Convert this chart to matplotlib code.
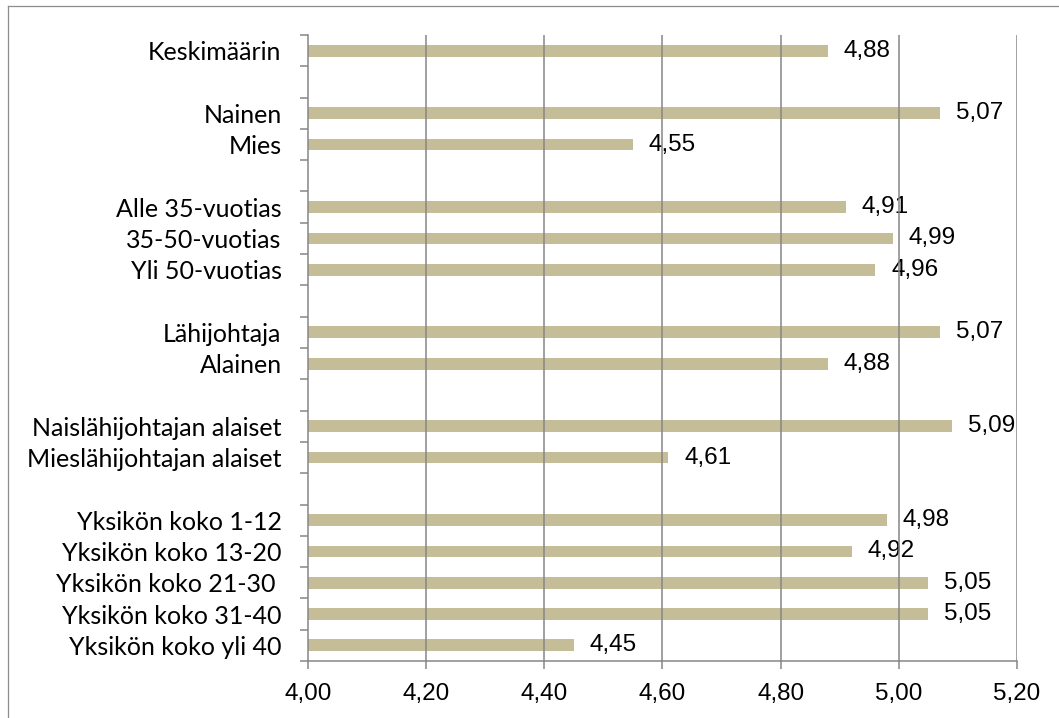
import matplotlib
matplotlib.use("Agg")
import matplotlib.pyplot as plt
from matplotlib.lines import Line2D
from matplotlib.ticker import FixedLocator

# Category rows, top to bottom; None marks an empty spacer row between groups
categories = [
    "Keskimäärin", None,
    "Nainen", "Mies", None,
    "Alle 35-vuotias", "35-50-vuotias", "Yli 50-vuotias", None,
    "Lähijohtaja", "Alainen", None,
    "Naislähijohtajan alaiset", "Mieslähijohtajan alaiset", None,
    "Yksikön koko 1-12", "Yksikön koko 13-20", "Yksikön koko 21-30 ",
    "Yksikön koko 31-40", "Yksikön koko yli 40",
]
values = [
    4.88, None,
    5.07, 4.55, None,
    4.91, 4.99, 4.96, None,
    5.07, 4.88, None,
    5.09, 4.61, None,
    4.98, 4.92, 5.05, 5.05, 4.45,
]
x_ticks = [4.00, 4.20, 4.40, 4.60, 4.80, 5.00, 5.20]
x_tick_labels = ["4,00", "4,20", "4,40", "4,60", "4,80", "5,00", "5,20"]

BAR_COLOR = "#C4BD97"
GRID_COLOR = "#868686"
TEXT_COLOR = "#000000"
LABEL_FONT = ["Lato", "DejaVu Sans"]
NUM_FONT = ["Liberation Sans", "DejaVu Sans"]

fig = plt.figure(figsize=(10.59, 7.18), dpi=100)
W, H = 1059, 718
ax = fig.add_axes([308 / W, 57 / H, (1017 - 308) / W, (661 - 35) / H])

rows = list(range(len(categories)))
bar_rows = [r for r, v in zip(rows, values) if v is not None]
bar_vals = [v for v in values if v is not None]
xmin = x_ticks[0]

ax.barh(bar_rows, [v - xmin for v in bar_vals], left=xmin, height=0.38,
        color=BAR_COLOR, edgecolor="none", zorder=2)

for r, v in zip(bar_rows, bar_vals):
    ax.annotate(f"{v:.2f}".replace(".", ","), xy=(v, r), xytext=(11.5, 0),
                textcoords="offset points", ha="left", va="center",
                fontsize=17.5, family=NUM_FONT, color=TEXT_COLOR, zorder=1)

ax.set_xlim(x_ticks[0], x_ticks[-1])
ax.set_ylim(len(categories) - 0.5, -0.5)

# vertical gridlines
for xv in x_ticks[1:]:
    ax.axvline(xv, color=GRID_COLOR, lw=1.1, zorder=3)

ax.set_xticks(x_ticks)
ax.set_xticklabels(x_tick_labels, fontsize=17.5, family=NUM_FONT, color=TEXT_COLOR)
ax.tick_params(axis="x", which="major", length=6, width=1.1, color=GRID_COLOR,
               pad=10)

# category labels on major ticks (no marks), boundary marks on minor ticks
lab_rows = [r for r, c in zip(rows, categories) if c is not None]
ax.set_yticks(lab_rows)
ax.set_yticklabels([c for c in categories if c is not None], fontsize=18,
                   family=LABEL_FONT, color=TEXT_COLOR)
ax.yaxis.set_minor_locator(FixedLocator([r - 0.5 for r in range(len(categories) + 1)]))
ax.tick_params(axis="y", which="major", length=0, pad=19)
ax.tick_params(axis="y", which="minor", length=6, width=1.1, color=GRID_COLOR)

for side in ("top", "right"):
    ax.spines[side].set_visible(False)
for side in ("left", "bottom"):
    ax.spines[side].set_color(GRID_COLOR)
    ax.spines[side].set_linewidth(1.1)
    ax.spines[side].set_zorder(4)

# chart area frame (left and top edges)
fig.add_artist(Line2D([8 / W, 8 / W], [0, 1 - 6 / H], transform=fig.transFigure,
                      color="#8C8C8C", lw=0.9))
fig.add_artist(Line2D([8 / W, 1], [1 - 6 / H, 1 - 6 / H], transform=fig.transFigure,
                      color="#8C8C8C", lw=0.9))

fig.savefig("out.png", dpi=100)
